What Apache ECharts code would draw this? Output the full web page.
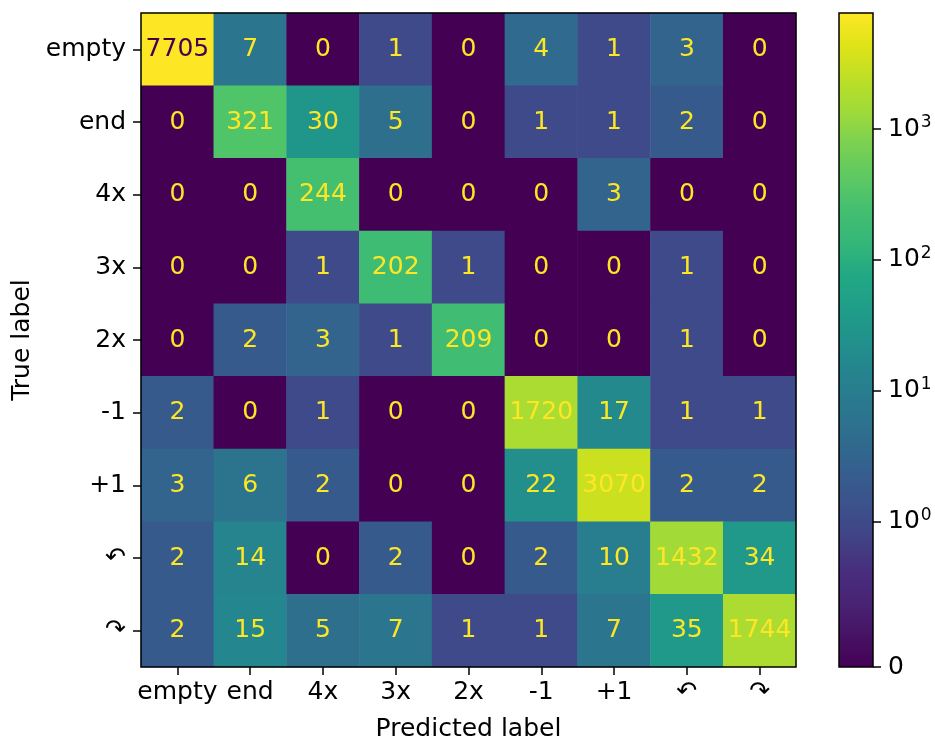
<!DOCTYPE html>
<html>
<head>
<meta charset="utf-8">
<script src="https://cdn.jsdelivr.net/npm/echarts@6/dist/echarts.min.js"></script>
<style>html,body{margin:0;padding:0;background:#fff;}#c{width:935px;height:740px;}</style>
</head>
<body>
<div id="c"></div>
<script>
const labels = ['empty', 'end', '4x', '3x', '2x', '-1', '+1', '\u21B6', '\u21B7'];
const rowEmpty = [7705, 7, 0, 1, 0, 4, 1, 3, 0];
const rowEnd   = [0, 321, 30, 5, 0, 1, 1, 2, 0];
const row4x    = [0, 0, 244, 0, 0, 0, 3, 0, 0];
const row3x    = [0, 0, 1, 202, 1, 0, 0, 1, 0];
const row2x    = [0, 2, 3, 1, 209, 0, 0, 1, 0];
const rowM1    = [2, 0, 1, 0, 0, 1720, 17, 1, 1];
const rowP1    = [3, 6, 2, 0, 0, 22, 3070, 2, 2];
const rowCCW   = [2, 14, 0, 2, 0, 2, 10, 1432, 34];
const rowCW    = [2, 15, 5, 7, 1, 1, 7, 35, 1744];
const matrix = [rowEmpty, rowEnd, row4x, row3x, row2x, rowM1, rowP1, rowCCW, rowCW];
const cbTickValues = [0, 1, 10, 100, 1000];
const cbTickLabels = ['0', '10{sup|0}', '10{sup|1}', '10{sup|2}', '10{sup|3}'];

const viridis = ['#440154','#471365','#482475','#472f7d','#414487','#3b528b','#355f8d','#2f6c8e','#2a788e','#25848e','#21918c','#1f9e89','#22a884','#35b779','#44bf70','#5ec962','#7ad151','#a0da39','#bddf26','#dfe318','#fde725'];

// matplotlib SymLogNorm (linthresh=1, linscale=1, base 10)
const linscaleAdj = 1 / (1 - 1 / 10);
function symlog(v) { return v <= 1 ? v * linscaleAdj : linscaleAdj + Math.log10(v); }

let vmax = 0, vmin = Infinity;
matrix.forEach(r => r.forEach(v => { vmax = Math.max(vmax, v); vmin = Math.min(vmin, v); }));
const tmax = symlog(vmax);
const thresh = (vmax + vmin) / 2;

const data = [];
matrix.forEach((r, yi) => r.forEach((v, xi) => {
  data.push({
    value: [xi, yi, symlog(v), v],
    label: { color: v < thresh ? viridis[viridis.length - 1] : viridis[0] }
  });
}));

const FONT = 'DejaVu Sans';
const FS = 25;
const chart = echarts.init(document.getElementById('c'), null, { renderer: 'canvas' });
chart.setOption({
  animation: false,
  backgroundColor: '#fff',
  textStyle: { fontFamily: FONT },
  grid: [
    { left: 141, top: 13, width: 655, height: 654, show: true, borderColor: '#000', borderWidth: 1.5, backgroundColor: 'transparent', z: 5, outerBoundsMode: 'none', containLabel: false },
    { left: 839, top: 13, width: 34, height: 654, show: true, borderColor: '#000', borderWidth: 1.5, backgroundColor: 'transparent', z: 5, outerBoundsMode: 'none', containLabel: false }
  ],
  xAxis: [
    { type: 'category', gridIndex: 0, data: labels, position: 'bottom',
      axisLine: { show: false }, axisTick: { show: true, length: 8, alignWithLabel: true, interval: 0, lineStyle: { color: '#000', width: 1.5 } },
      axisLabel: { color: '#000', fontSize: FS, fontFamily: FONT, margin: 13, interval: 0 },
      splitLine: { show: false },
      name: 'Predicted label', nameLocation: 'middle', nameGap: 50,
      nameTextStyle: { color: '#000', fontSize: FS, fontFamily: FONT } },
    { type: 'category', gridIndex: 1, data: ['c'], show: false }
  ],
  yAxis: [
    { type: 'category', gridIndex: 0, data: labels, inverse: true,
      axisLine: { show: false }, axisTick: { show: true, length: 8, alignWithLabel: true, interval: 0, lineStyle: { color: '#000', width: 1.5 } },
      axisLabel: { color: '#000', fontSize: FS, fontFamily: FONT, margin: 15, interval: 0 },
      splitLine: { show: false },
      name: 'True label', nameLocation: 'middle', nameGap: 106, nameRotate: 90,
      nameTextStyle: { color: '#000', fontSize: FS, fontFamily: FONT } },
    { type: 'value', gridIndex: 1, position: 'right', min: 0, max: tmax,
      axisLine: { show: false }, splitLine: { show: false },
      axisTick: { show: true, length: 8, customValues: cbTickValues.map(symlog), lineStyle: { color: '#000', width: 1.5 } },
      axisLabel: { show: true, margin: 15, color: '#000', fontSize: FS, fontFamily: FONT,
        customValues: cbTickValues.map(symlog),
        formatter: function (val) {
          let best = 0, bd = Infinity;
          cbTickValues.forEach((t, i) => { const d = Math.abs(symlog(t) - val); if (d < bd) { bd = d; best = i; } });
          return cbTickLabels[best];
        },
        rich: { sup: { fontSize: 17, fontFamily: FONT, color: '#000', padding: [0, 0, 13, 1] } } } }
  ],
  visualMap: {
    show: false, type: 'continuous', seriesIndex: 0, dimension: 2,
    min: 0, max: tmax, inRange: { color: viridis }
  },
  series: [
    { type: 'heatmap', xAxisIndex: 0, yAxisIndex: 0, data: data,
      label: { show: true, fontSize: FS, fontFamily: FONT, formatter: p => String(p.value[3]) },
      emphasis: { disabled: true } },
    { type: 'bar', xAxisIndex: 1, yAxisIndex: 1, data: [tmax], barWidth: '100%', silent: true,
      itemStyle: { color: { type: 'linear', x: 0, y: 1, x2: 0, y2: 0,
        colorStops: viridis.map((c, i) => ({ offset: i / (viridis.length - 1), color: c })) } } }
  ]
});
</script>
</body>
</html>
